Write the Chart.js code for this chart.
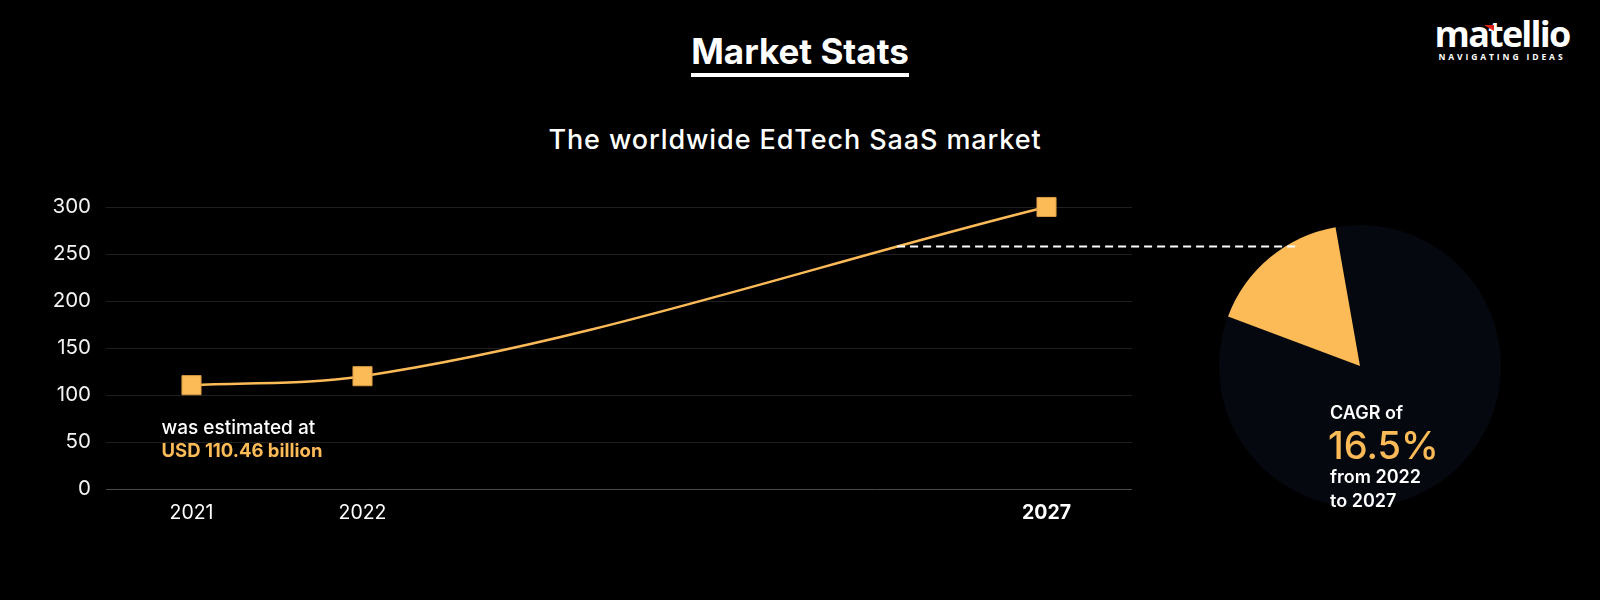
<!DOCTYPE html>
<html>
<head>
<meta charset="utf-8">
<script src="https://cdn.jsdelivr.net/npm/chart.js@4.4.1/dist/chart.umd.min.js"></script>
<style>
  html, body { margin: 0; padding: 0; background: #000; }
  body { width: 1600px; height: 600px; position: relative; overflow: hidden; font-family: Inter, 'Open Sans', sans-serif; color: #fff; }
  #head { position: absolute; left: 0; width: 1600px; top: 31px; text-align: center; }
  #head span { display: inline-block; font-size: 35px; font-weight: 700; line-height: 40px; padding-bottom: 2px; border-bottom: 4px solid #fff; letter-spacing: 0px; }
  #sub { position: absolute; left: 0; width: 1590px; top: 123px; text-align: center; font-size: 27px; font-weight: 500; line-height: 34px; letter-spacing: 0.9px; }
  #logo { position: absolute; left: 1432px; top: 12px; width: 140px; text-align: center; }
  #logo .word { font-family: 'Open Sans', sans-serif; font-size: 36px; font-weight: 700; letter-spacing: -1.8px; line-height: 44px; position: relative; }
  #logo .tag { font-family: 'Open Sans', sans-serif; font-size: 8.5px; font-weight: 700; letter-spacing: 2.9px; line-height: 10px; margin-top: -4px; }
  #logo .mark { position: absolute; left: 52px; top: 13px; width: 10px; height: 6px; background: #e0201b; clip-path: polygon(0 0, 100% 0, 100% 100%); }
  #line { position: absolute; left: 0; top: 160px; z-index: 2; }
  #pie { position: absolute; left: 1200px; top: 206px; z-index: 1; }
</style>
</head>
<body>
<div id="head"><span>Market Stats</span></div>
<div id="sub">The worldwide EdTech SaaS market</div>
<div id="logo"><div class="word">matellio<div class="mark"></div></div><div class="tag">NAVIGATING IDEAS</div></div>
<canvas id="line" width="1320" height="400"></canvas>
<canvas id="pie" width="320" height="320"></canvas>
<script>
// market size, USD billion
const years = ['2021', '2022', '2023', '2024', '2025', '2027'];
const shownYears = ['2021', '2022', '2027'];
const marketSize = [110.46, 120, null, null, null, 300];
const markerValue = 258;

const cagrLabels = ['Other', 'CAGR'];
const cagrShare = [83.5, 16.5];

const YELLOW = '#fdbb58';
const DARK = '#05080f';

Chart.defaults.font.family = 'Inter, "Open Sans", sans-serif';
Chart.defaults.color = '#fff';

// annotation texts + dashed guide line
const lineNotes = {
    id: 'lineNotes',
    afterDatasetsDraw(chart) {
        const ctx = chart.ctx;
        const pts = chart.getDatasetMeta(0).data;
        const y = chart.scales.y;

        ctx.save();
        ctx.textBaseline = 'middle';
        ctx.textAlign = 'left';
        ctx.fillStyle = '#fff';
        ctx.font = '500 19px Inter, sans-serif';
        ctx.fillText('was estimated at', pts[0].x - 30, pts[0].y + 43);
        ctx.fillStyle = YELLOW;
        ctx.font = '700 18.5px Inter, sans-serif';
        ctx.fillText('USD ' + marketSize[0] + ' billion', pts[0].x - 30, pts[0].y + 66);

        // find where curve 2022 -> 2027 crosses the marker level
        const a = pts[1], b = pts[5];
        const yy = y.getPixelForValue(markerValue);
        const bez = (p0, c1, c2, p3, t) => {
            const u = 1 - t;
            return u * u * u * p0 + 3 * u * u * t * c1 + 3 * u * t * t * c2 + t * t * t * p3;
        };
        let lo = 0, hi = 1;
        for (let i = 0; i < 40; i++) {
            const mid = (lo + hi) / 2;
            const my = bez(a.y, a.cp2y, b.cp1y, b.y, mid);
            if (my > yy) lo = mid; else hi = mid;
        }
        const xStart = bez(a.x, a.cp2x, b.cp1x, b.x, lo);

        ctx.strokeStyle = '#fff';
        ctx.lineWidth = 2;
        ctx.setLineDash([8, 5]);
        ctx.beginPath();
        ctx.moveTo(xStart, yy);
        ctx.lineTo(chart.width - 22, yy);
        ctx.stroke();
        ctx.restore();
    }
};

new Chart(document.getElementById('line'), {
    type: 'line',
    data: {
        labels: years,
        datasets: [{
            data: marketSize,
            borderColor: YELLOW,
            borderWidth: 2.5,
            backgroundColor: YELLOW,
            pointStyle: 'rect',
            pointRadius: 13.5,
            pointBorderColor: '#d99b45',
            pointBorderWidth: 1,
            cubicInterpolationMode: 'monotone',
            spanGaps: true,
            clip: false
        }]
    },
    options: {
        responsive: false,
        animation: false,
        layout: { padding: { top: 47, right: 188, bottom: 31, left: 0 } },
        plugins: { legend: { display: false }, tooltip: { enabled: false }, title: { display: false } },
        scales: {
            x: {
                offset: true,
                grid: { display: false },
                border: { display: false },
                afterFit(s) { s.height = 40; },
                ticks: {
                    padding: 4,
                    autoSkip: false,
                    maxRotation: 0,
                    color: '#fff',
                    font: (c) => ({ size: 19.5, weight: years[c.index] === '2027' ? '700' : '400' }),
                    callback(v, i) {
                        const l = years[i];
                        return shownYears.includes(l) ? l : '';
                    }
                }
            },
            y: {
                min: 0,
                max: 300,
                afterFit(s) { s.width = 106; },
                border: { display: false },
                grid: {
                    drawTicks: false,
                    color: (c) => c.tick && c.tick.value === 0 ? '#4a4a4a' : '#1f1f1f',
                    lineWidth: 1
                },
                ticks: { stepSize: 50, padding: 15, color: '#f2f2f2', font: { size: 20.5 } }
            }
        }
    },
    plugins: [lineNotes]
});

const pieNotes = {
    id: 'pieNotes',
    afterDraw(chart) {
        const arc = chart.getDatasetMeta(0).data[0];
        const cx = arc.x, cy = arc.y;
        const ctx = chart.ctx;
        ctx.save();
        ctx.textAlign = 'left';
        ctx.textBaseline = 'middle';
        ctx.fillStyle = '#fff';
        ctx.font = '600 18px Inter, sans-serif';
        ctx.fillText('CAGR of', cx - 30, cy + 48);
        ctx.fillText('from 2022', cx - 30, cy + 112);
        ctx.fillText('to 2027', cx - 30, cy + 136);
        ctx.fillStyle = YELLOW;
        ctx.font = '500 38px Inter, sans-serif';
        ctx.fillText(cagrShare[1] + '%', cx - 32, cy + 82);
        ctx.restore();
    }
};

new Chart(document.getElementById('pie'), {
    type: 'pie',
    data: {
        labels: cagrLabels,
        datasets: [{
            data: cagrShare,
            backgroundColor: [DARK, YELLOW],
            borderWidth: 0
        }]
    },
    options: {
        responsive: false,
        animation: false,
        rotation: -10,
        layout: { padding: 19 },
        plugins: { legend: { display: false }, tooltip: { enabled: false } }
    },
    plugins: [pieNotes]
});
</script>
</body>
</html>
